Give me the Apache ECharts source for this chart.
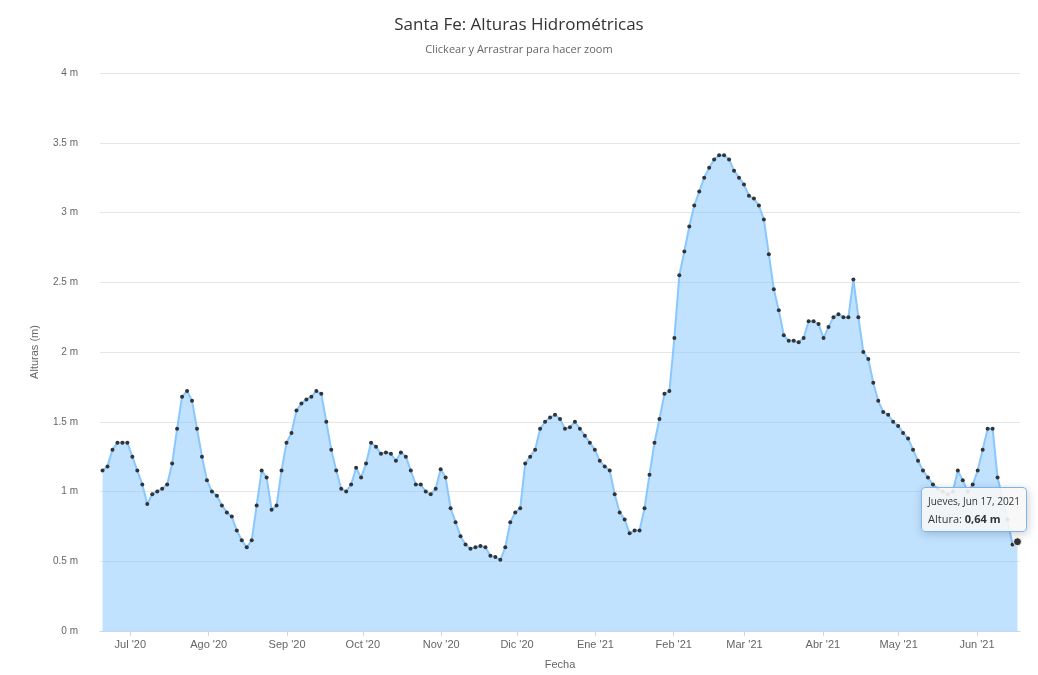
<!DOCTYPE html>
<html>
<head>
<meta charset="utf-8">
<script src="https://cdn.jsdelivr.net/npm/echarts@6/dist/echarts.min.js"></script>
<style>html,body{margin:0;padding:0;background:#fff}#chart{width:1038px;height:675px}</style>
</head>
<body>
<div id="chart"></div>
<script>
// alturas, aprox. cada 2 dias desde el 20/06/2020 hasta el 17/06/2021
var alturas = [
    1.15, 1.18, 1.3, 1.35, 1.35, 1.35,
    1.25, 1.15, 1.05, 0.91, 0.98, 1.0, 1.02,
    1.05, 1.2, 1.45, 1.68, 1.72, 1.65,
    1.45, 1.25, 1.08, 1.0, 0.97, 0.9, 0.85, 0.82, 0.72, 0.65,
    0.6, 0.65, 0.9, 1.15, 1.1, 0.87, 0.9,
    1.15, 1.35, 1.42, 1.58, 1.63, 1.66, 1.68, 1.72, 1.7,
    1.5, 1.3, 1.15, 1.02, 1.0, 1.05, 1.17, 1.1,
    1.2, 1.35, 1.32, 1.27, 1.28, 1.27, 1.22, 1.28, 1.25, 1.15,
    1.05, 1.05, 1.0, 0.98, 1.02, 1.16, 1.1,
    0.88, 0.78, 0.68, 0.62, 0.59, 0.6, 0.61, 0.6, 0.54, 0.53, 0.51,
    0.6, 0.78, 0.85, 0.88, 1.2, 1.25, 1.3, 1.45, 1.5,
    1.53, 1.55, 1.52, 1.45, 1.46, 1.5, 1.45, 1.4, 1.35, 1.3, 1.22,
    1.18, 1.15, 0.98, 0.85, 0.8, 0.7, 0.72, 0.72,
    0.88, 1.12, 1.35, 1.52, 1.7, 1.72, 2.1, 2.55,
    2.72, 2.9, 3.05, 3.15, 3.25, 3.32, 3.38, 3.41,
    3.41, 3.38, 3.3, 3.25, 3.2, 3.12, 3.1, 3.05, 2.95, 2.7, 2.45,
    2.3, 2.12, 2.08, 2.08, 2.07, 2.1, 2.22,
    2.22, 2.2, 2.1, 2.18, 2.25, 2.27, 2.25, 2.25, 2.52,
    2.25, 2.0, 1.95, 1.78, 1.65, 1.57, 1.55, 1.5, 1.47,
    1.42, 1.38, 1.3, 1.22, 1.15, 1.1, 1.05, 1.02, 1.0, 0.98, 1.0,
    1.15, 1.08, 1.0, 1.05, 1.15, 1.3, 1.45, 1.45, 1.1, 0.95, 0.8, 0.62, 0.64
];
var meses = ['Ene', 'Feb', 'Mar', 'Abr', 'May', 'Jun', 'Jul', 'Ago', 'Sep', 'Oct', 'Nov', 'Dic'];
var dias = ['Domingo', 'Lunes', 'Martes', 'Miércoles', 'Jueves', 'Viernes', 'Sábado'];
var mesesEn = ['Jan', 'Feb', 'Mar', 'Apr', 'May', 'Jun', 'Jul', 'Aug', 'Sep', 'Oct', 'Nov', 'Dec'];

var inicio = Date.UTC(2020, 5, 20);
var fin = Date.UTC(2021, 5, 17);
var paso = (fin - inicio) / (alturas.length - 1);
var datos = alturas.map(function (v, i) {
    return [inicio + i * paso, v];
});

var chart = echarts.init(document.getElementById('chart'));
var option = {
    backgroundColor: '#fff',
    animation: false,
    title: {
        text: 'Santa Fe: Alturas Hidrométricas',
        subtext: 'Clickear y Arrastrar para hacer zoom',
        left: 'center',
        top: 12,
        itemGap: 10,
        textStyle: {color: '#333', fontSize: 17, fontWeight: 'normal', fontFamily: 'Open Sans'},
        subtextStyle: {color: '#666', fontSize: 11, fontFamily: 'Open Sans'}
    },
    grid: {left: 100, right: 18, top: 73, bottom: 37},
    tooltip: {
        trigger: 'item',
        alwaysShowContent: true,
        backgroundColor: 'rgba(247,247,247,0.9)',
        borderColor: '#7cb5ec',
        borderWidth: 1,
        padding: [4, 6],
        textStyle: {fontSize: 11, color: '#333', fontFamily: 'Open Sans'},
        position: function (pt, params, dom, rect, size) {
            return [pt[0] - size.contentSize[0] + 10, pt[1] - size.contentSize[1] - 10];
        },
        formatter: function (p) {
            var d = new Date(p.value[0]);
            return '<span style="font-size:10px">' + dias[d.getUTCDay()] + ', ' + mesesEn[d.getUTCMonth()] + ' ' +
                d.getUTCDate() + ', ' + d.getUTCFullYear() + '</span><br>Altura: <b>' +
                p.value[1].toFixed(2).replace('.', ',') + ' m</b>';
        }
    },
    xAxis: {
        type: 'time',
        min: inicio - 86400000,
        max: fin + 86400000,
        name: 'Fecha',
        nameLocation: 'middle',
        nameGap: 28,
        nameTextStyle: {color: '#666', fontSize: 11},
        splitNumber: 12,
        axisLine: {lineStyle: {color: '#ccd6eb'}},
        axisTick: {show: true, lineStyle: {color: '#ccd6eb'}},
        splitLine: {show: false},
        axisLabel: {
            color: '#666',
            fontSize: 11,
            hideOverlap: false,
            formatter: function (v) {
                var d = new Date(v);
                return meses[d.getUTCMonth()] + " '" + String(d.getUTCFullYear()).slice(2);
            }
        }
    },
    yAxis: {
        type: 'value',
        min: 0,
        max: 4,
        interval: 0.5,
        name: 'Alturas (m)',
        nameLocation: 'middle',
        nameGap: 60,
        nameTextStyle: {color: '#666', fontSize: 11},
        axisLabel: {color: '#666', fontSize: 10, formatter: '{value} m', margin: 22},
        splitLine: {lineStyle: {color: '#e6e6e6'}}
    },
    series: [{
        name: 'Altura',
        type: 'line',
        data: datos,
        symbol: 'circle',
        symbolSize: 4,
        showAllSymbol: true,
        itemStyle: {color: '#333'},
        lineStyle: {color: '#7cb5ec', width: 2},
        areaStyle: {color: 'rgba(124,181,236,0.75)'},
        emphasis: {scale: 2, itemStyle: {color: '#333', borderColor: '#fff', borderWidth: 1}}
    }]
};
chart.setOption(option);
chart.dispatchAction({type: 'showTip', seriesIndex: 0, dataIndex: alturas.length - 1});
chart.dispatchAction({type: 'highlight', seriesIndex: 0, dataIndex: alturas.length - 1});
</script>
</body>
</html>
